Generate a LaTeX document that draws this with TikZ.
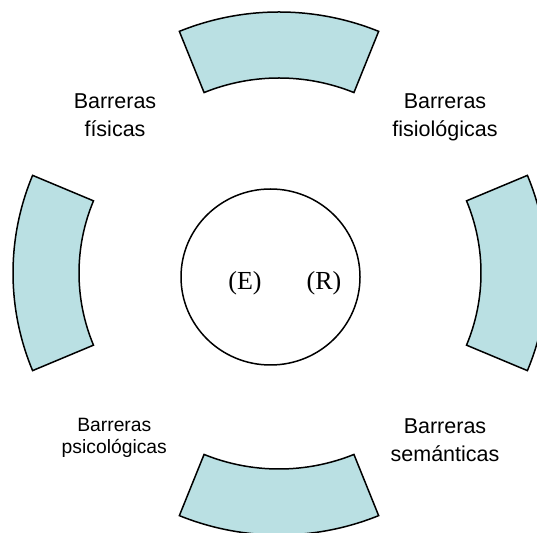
\documentclass[tikz,border=0pt]{standalone}
\usepackage{fontspec}
\setmainfont{Liberation Serif}
\newfontfamily\labelfont{Liberation Sans}
\usetikzlibrary{shapes.geometric}
\definecolor{barrierfill}{RGB}{186,224,227}
\tikzset{
  barrier/.style={draw=black, line width=1.5pt, fill=barrierfill, line join=miter},
  core/.style={draw=black, line width=1.5pt, ellipse, inner sep=0pt},
  lbl/.style={align=center, inner sep=0pt, anchor=north},
  bigl/.style={lbl, font=\labelfont\fontsize{21.5}{27.4}\selectfont},
  smalll/.style={lbl, font=\labelfont\fontsize{19.3}{21.7}\selectfont},
  party/.style={inner sep=0pt, anchor=base, font=\fontsize{26}{30}\selectfont}
}
\begin{document}
\begin{tikzpicture}[x=1pt,y=1pt]
  \useasboundingbox (0,0) rectangle (537,532);
  \clip (0,0) rectangle (537,532);
  % top barrier
  \draw[barrier, shift={(279pt,254pt)}]
    (68:266pt) arc[start angle=68, end angle=112, radius=266pt]
    -- (112:200pt) arc[start angle=112, end angle=68, radius=200pt] -- cycle;
  % bottom barrier
  \draw[barrier, shift={(279pt,263pt)}]
    (248:266pt) arc[start angle=248, end angle=292, radius=266pt]
    -- (292:200pt) arc[start angle=292, end angle=248, radius=200pt] -- cycle;
  % left barrier
  \draw[barrier, shift={(266pt,259pt)}]
    (157.3:253pt) arc[start angle=157.3, end angle=202.7, radius=253pt]
    -- (202.7:187pt) arc[start angle=202.7, end angle=157.3, radius=187pt] -- cycle;
  % right barrier
  \draw[barrier, shift={(294pt,259pt)}]
    (-22.7:253pt) arc[start angle=-22.7, end angle=22.7, radius=253pt]
    -- (22.7:187pt) arc[start angle=22.7, end angle=-22.7, radius=187pt] -- cycle;
  % centre
  \node[core, minimum width=179pt, minimum height=176pt] (centre) at (270.5,255) {};
  \node[party] (emisor) at (245,242) {(E)};
  \node[party] (receptor) at (324,242) {(R)};
  % labels
  \node[bigl] (fisicas) at (115,438.1) {Barreras\\físicas};
  \node[bigl] (fisiologicas) at (445,438.1) {Barreras\\fisiológicas};
  \node[smalll] (psicologicas) at (114.3,114.1) {Barreras\\psicológicas};
  \node[bigl] (semanticas) at (445,113) {Barreras\\semánticas};
\end{tikzpicture}
\end{document}
